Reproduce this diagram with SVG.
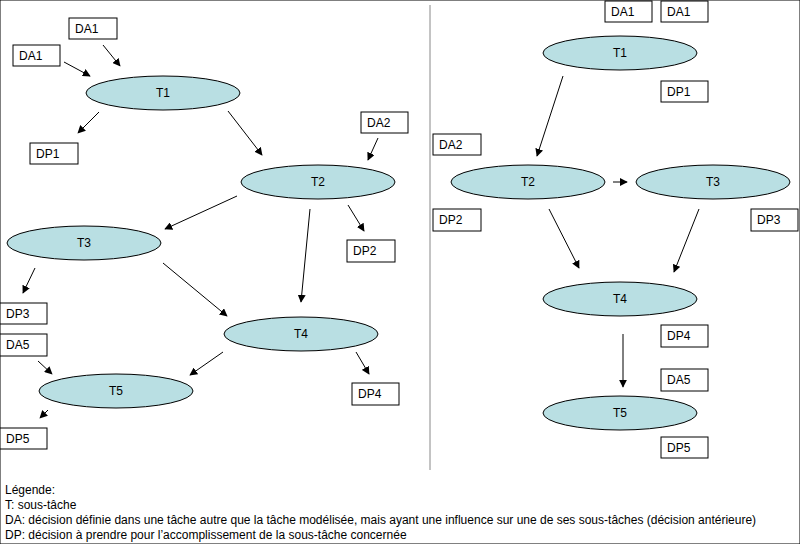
<svg xmlns="http://www.w3.org/2000/svg" width="800" height="544" viewBox="0 0 800 544">
<style>
text{font-family:"Liberation Sans",Arial,sans-serif;font-size:12px;fill:#000}
.t{text-anchor:middle;dominant-baseline:central}
ellipse{fill:#b9dfe3;stroke:#000;stroke-width:1}
rect{fill:#fff;stroke:#000;stroke-width:1}
.c line{stroke:#000;stroke-width:1;marker-end:url(#a)}
</style>
<defs><marker id="a" viewBox="0 0 10 10" refX="9" refY="5" markerWidth="8" markerHeight="8" orient="auto" markerUnits="userSpaceOnUse"><path d="M0,0L10,5L0,10z" fill="#000"/></marker></defs>
<rect width="800" height="544" fill="#fff" stroke="none"/>
<line x1="430" y1="5" x2="430" y2="470" stroke="#888"/>
<g id="L-T1"><ellipse cx="163" cy="93" rx="77" ry="17"/><text class="t" x="163" y="93">T1</text></g>
<g id="L-T2"><ellipse cx="318" cy="182" rx="77" ry="17"/><text class="t" x="318" y="182">T2</text></g>
<g id="L-T3"><ellipse cx="84" cy="243" rx="77" ry="17"/><text class="t" x="84" y="243">T3</text></g>
<g id="L-T4"><ellipse cx="301" cy="334" rx="77" ry="17"/><text class="t" x="301" y="334">T4</text></g>
<g id="L-T5"><ellipse cx="116" cy="391" rx="77" ry="17"/><text class="t" x="116" y="391">T5</text></g>
<g id="L-DA1a"><rect x="69" y="18" width="48" height="21"/><text x="75" y="33">DA1</text></g>
<g id="L-DA1b"><rect x="13" y="45" width="47" height="21"/><text x="19" y="60">DA1</text></g>
<g id="L-DP1"><rect x="30" y="143" width="48" height="21"/><text x="36" y="158">DP1</text></g>
<g id="L-DA2"><rect x="361" y="112" width="47" height="21"/><text x="367" y="127">DA2</text></g>
<g id="L-DP2"><rect x="347" y="240" width="48" height="22"/><text x="353" y="255">DP2</text></g>
<g id="L-DP3"><rect x="0" y="303" width="47" height="21"/><text x="6" y="318">DP3</text></g>
<g id="L-DA5"><rect x="0" y="334" width="47" height="22"/><text x="6" y="349">DA5</text></g>
<g id="L-DP4"><rect x="352" y="383" width="47" height="22"/><text x="358" y="398">DP4</text></g>
<g id="L-DP5"><rect x="0" y="428" width="47" height="21"/><text x="6" y="443">DP5</text></g>
<g id="R-T1"><ellipse cx="620" cy="53" rx="77" ry="17"/><text class="t" x="620" y="53">T1</text></g>
<g id="R-T2"><ellipse cx="528" cy="182" rx="77" ry="17"/><text class="t" x="528" y="182">T2</text></g>
<g id="R-T3"><ellipse cx="713" cy="182" rx="77" ry="17"/><text class="t" x="713" y="182">T3</text></g>
<g id="R-T4"><ellipse cx="620" cy="299" rx="77" ry="17"/><text class="t" x="620" y="299">T4</text></g>
<g id="R-T5"><ellipse cx="620" cy="413" rx="77" ry="17"/><text class="t" x="620" y="413">T5</text></g>
<g id="R-DA1a"><rect x="605" y="1" width="47" height="21"/><text x="611" y="16">DA1</text></g>
<g id="R-DA1b"><rect x="661" y="1" width="47" height="21"/><text x="667" y="16">DA1</text></g>
<g id="R-DP1"><rect x="661" y="81" width="47" height="21"/><text x="667" y="96">DP1</text></g>
<g id="R-DA2"><rect x="433" y="134" width="48" height="21"/><text x="439" y="149">DA2</text></g>
<g id="R-DP2"><rect x="433" y="209" width="48" height="22"/><text x="439" y="224">DP2</text></g>
<g id="R-DP3"><rect x="751" y="209" width="47" height="22"/><text x="757" y="224">DP3</text></g>
<g id="R-DP4"><rect x="661" y="325" width="47" height="22"/><text x="667" y="340">DP4</text></g>
<g id="R-DA5"><rect x="661" y="369" width="47" height="22"/><text x="667" y="384">DA5</text></g>
<g id="R-DP5"><rect x="661" y="437" width="47" height="21"/><text x="667" y="452">DP5</text></g>
<g class="c" id="connectors">
<line x1="103" y1="45" x2="120" y2="66"/>
<line x1="64" y1="62" x2="90" y2="76"/>
<line x1="99" y1="112" x2="78" y2="133"/>
<line x1="228" y1="111" x2="262" y2="155"/>
<line x1="378" y1="138" x2="368" y2="160"/>
<line x1="237" y1="196" x2="165" y2="229"/>
<line x1="310" y1="209" x2="301" y2="302"/>
<line x1="348" y1="205" x2="364" y2="231"/>
<line x1="35" y1="268" x2="23" y2="293"/>
<line x1="163" y1="263" x2="227" y2="316"/>
<line x1="223" y1="352" x2="190" y2="375"/>
<line x1="356" y1="352" x2="369" y2="374"/>
<line x1="38" y1="361" x2="52" y2="374"/>
<line x1="48" y1="410" x2="40" y2="418"/>
<line x1="563" y1="76" x2="537" y2="156"/>
<line x1="613" y1="182" x2="627" y2="182"/>
<line x1="549" y1="209" x2="579" y2="268"/>
<line x1="699" y1="209" x2="674" y2="272"/>
<line x1="623" y1="334" x2="623" y2="387"/>
</g>
<g id="legend">
<text x="5" y="494">Légende:</text>
<text x="5" y="509">T: sous-tâche</text>
<text x="5" y="524">DA: décision définie dans une tâche autre que la tâche modélisée, mais ayant une influence sur une de ses sous-tâches (décision antérieure)</text>
<text x="5" y="539">DP: décision à prendre pour l’accomplissement de la sous-tâche concernée</text>
</g>
</svg>
